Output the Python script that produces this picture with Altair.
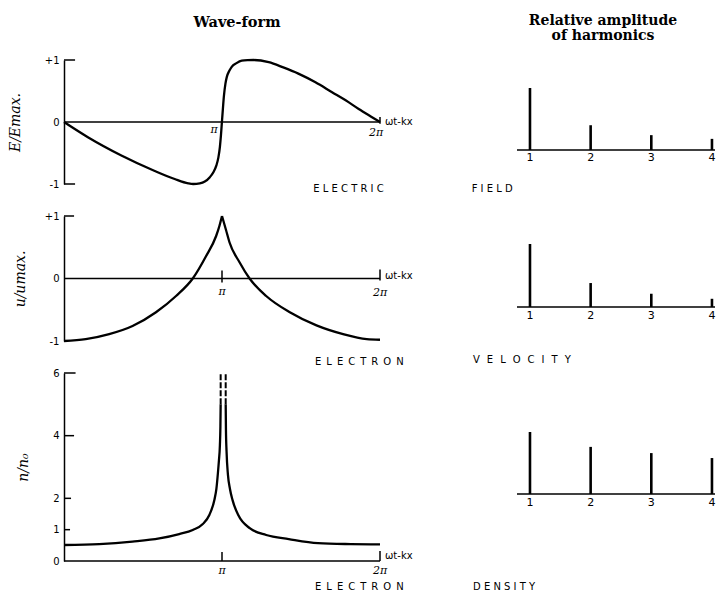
import math
import altair as alt
import pandas as pd

PI = math.pi
TWO_PI = 2 * math.pi

# ---------------- data ----------------
# Electric field wave-form (phase in rad, E/Emax)
field_phase = [0.0, 0.475, 1.141, 1.805, 2.20, 2.47, 2.57, 2.70, 2.80, 2.90, 2.97, 3.03, 3.07, 3.10,
               3.12, 3.14, 3.16, 3.18, 3.21, 3.235, 3.29, 3.335, 3.43, 3.535, 3.65, 3.77, 4.07, 4.36,
               4.66, 5.00, 5.33, 5.60, 5.86, 6.10, 6.283]
field_value = [0.0, -0.245, -0.54, -0.79, -0.92, -0.99, -1.0, -0.99, -0.96, -0.89, -0.81, -0.70, -0.57,
               -0.40, -0.22, 0.0, 0.22, 0.42, 0.62, 0.72, 0.83, 0.89, 0.95, 0.99, 0.998, 1.0, 0.965,
               0.88, 0.78, 0.64, 0.48, 0.35, 0.21, 0.09, 0.0]

# Electron velocity (u/umax), two branches meeting in a cusp at pi
vel_left_phase = [0.0, 0.432, 0.898, 1.363, 1.829, 2.228, 2.56, 2.826, 3.025, 3.09, 3.1416]
vel_left_value = [-1.0, -0.97, -0.89, -0.76, -0.54, -0.28, 0.0, 0.36, 0.68, 0.84, 1.0]
vel_right_phase = [3.1416, 3.22, 3.29, 3.49, 3.69, 4.02, 4.49, 5.02, 5.55, 6.02, 6.283]
vel_right_value = [1.0, 0.78, 0.58, 0.26, 0.0, -0.28, -0.54, -0.75, -0.89, -0.97, -0.98]

# Electron density (n/n0), two branches going off-scale near pi
den_left_phase = [0.0, 0.70, 1.36, 1.895, 2.29, 2.56, 2.76, 2.89, 2.99, 3.03, 3.06, 3.08, 3.10, 3.11, 3.115]
den_left_value = [0.51, 0.54, 0.62, 0.72, 0.86, 0.99, 1.18, 1.47, 1.95, 2.3, 2.8, 3.2, 3.7, 4.3, 5.0]
den_right_phase = [3.215, 3.22, 3.232, 3.26, 3.30, 3.35, 3.47, 3.70, 4.02, 4.47, 5.05, 5.70, 6.283]
den_right_value = [5.0, 4.2, 3.5, 2.75, 2.3, 1.95, 1.45, 1.04, 0.83, 0.70, 0.57, 0.54, 0.53]
den_break_phase = [3.115, 3.215]
den_break_from = [5.0, 5.0]
den_break_to = [6.0, 6.0]

# Relative amplitude of harmonics
harmonic_n = [1, 2, 3, 4]
harm_field = [1.0, 0.40, 0.24, 0.18]
harm_velocity = [1.0, 0.38, 0.21, 0.13]
harm_density = [1.0, 0.76, 0.66, 0.58]
harmonic_labels = ["1", "2", "3", "4"]

col_titles = ["Wave-form", ["Relative amplitude", "of harmonics"]]
y_titles = ["E/Emax.", "u/umax.", "n/n\u2080"]
row_words = [("ELECTRIC", "FIELD"),
             ("ELECTRON", "VELOCITY"),
             ("ELECTRON", "DENSITY")]
# letter gaps used to spread the lettering as in the original
row_gaps = [(" ", "   "),
            ("\u2002", "\u2002\u2009"),
            ("\u2002", "  ")]
phase_labels = ["\u03c0", "2\u03c0"]
phase_axis_word = "\u03c9t-kx"

# ---------------- helpers ----------------
W_WAVE = 316
W_HARM = 198
XS_WAVE = alt.Scale(domain=[0, TWO_PI], nice=False, zero=False)
HX_MIN, HX_MAX = 0.786, 4.050
XS_HARM = alt.Scale(domain=[HX_MIN, HX_MAX], nice=False, zero=False)
SANS = "DejaVu Sans"
SERIF = "DejaVu Serif"


def spaced(word, gap):
    return gap.join(list(word))


def y_axis(values, expr, title, tpad):
    return alt.Axis(values=values, labelExpr=expr, title=title, titlePadding=tpad,
                    domain=True, domainColor="black", domainWidth=1.5,
                    ticks=False, tickSize=0, labelPadding=5, labelFont=SANS,
                    labelFontSize=10, labelColor="black", labelAngle=0,
                    labelFlush=False, labelOverlap=False, grid=False,
                    titleFont=SERIF, titleFontSize=14, titleFontStyle="italic",
                    titleFontWeight="normal", titleColor="black")


def text_df(x, y, label):
    return pd.DataFrame({"phi": [x], "v": [y], "label": [label]})


def wave_panel(curve_df, ydom, height, axis, rules_df, texts, dashed_df=None, title=None):
    ys = alt.Scale(domain=ydom, nice=False, zero=False)

    def X():
        return alt.X("phi:Q", scale=XS_WAVE, axis=None)

    def Y():
        return alt.Y("v:Q", scale=ys, axis=axis)

    layers = [
        alt.Chart(curve_df).mark_line(color="black", strokeWidth=2.3, interpolate="monotone")
        .encode(x=X(), y=Y(), detail="seg:N"),
        alt.Chart(rules_df).mark_rule(color="black", strokeWidth=1.5)
        .encode(x=X(), x2="phi2:Q", y=Y(), y2="v2:Q"),
    ]
    if dashed_df is not None:
        layers.append(alt.Chart(dashed_df).mark_rule(color="black", strokeWidth=2.0, strokeDash=[6, 2])
                      .encode(x=X(), y=Y(), y2="v2:Q"))
    for df, kw in texts:
        layers.append(alt.Chart(df).mark_text(color="black", **kw)
                      .encode(x=X(), y=Y(), text="label:N"))
    ch = alt.layer(*layers).properties(width=W_WAVE, height=height)
    if title is not None:
        ch = ch.properties(title=title)
    return ch


def harm_panel(amps, ydom, height, word_df, label_dy, title=None):
    ys = alt.Scale(domain=ydom, nice=False, zero=False)

    def X():
        return alt.X("phi:Q", scale=XS_HARM, axis=None)

    def Y():
        return alt.Y("v:Q", scale=ys, axis=None)

    base = pd.DataFrame({"phi": [HX_MIN], "phi2": [HX_MAX], "v": [0.0]})
    bars = pd.DataFrame({"phi": harmonic_n, "v": [0.0] * 4, "v2": amps})
    labs = pd.DataFrame({"phi": harmonic_n, "v": [0.0] * 4, "label": harmonic_labels})
    layers = [
        alt.Chart(base).mark_rule(color="black", strokeWidth=1.5).encode(x=X(), x2="phi2:Q", y=Y()),
        alt.Chart(bars).mark_rule(color="black", strokeWidth=2.6).encode(x=X(), y=Y(), y2="v2:Q"),
        alt.Chart(labs).mark_text(color="black", font=SANS, fontSize=11, baseline="top", dy=label_dy)
        .encode(x=X(), y=Y(), text="label:N"),
        alt.Chart(word_df).mark_text(color="black", font=SANS, fontSize=10, align="left", baseline="middle")
        .encode(x=X(), y=Y(), text="label:N"),
    ]
    ch = alt.layer(*layers).properties(width=W_HARM, height=height)
    if title is not None:
        ch = ch.properties(title=title)
    return ch


def seg_df(rows):
    return pd.DataFrame(rows, columns=["phi", "v", "phi2", "v2"])


pi_style = dict(font=SERIF, fontSize=11, fontStyle="italic", align="center", baseline="top")
wt_style = dict(font=SANS, fontSize=10, align="left", baseline="middle", dx=5)
word_style = dict(font=SANS, fontSize=10, align="left", baseline="middle")

# ---------------- row 1 : electric field ----------------
field_df = pd.DataFrame({"phi": field_phase, "v": field_value, "seg": "a"})
rules1 = seg_df([[0, 0, TWO_PI, 0], [0, 1, 0.22, 1], [0, -1, 0.22, -1], [TWO_PI, -0.03, TWO_PI, 0.08]])
texts1 = [
    (text_df(PI, 0, phase_labels[0]), dict(pi_style, dx=-8, dy=2)),
    (text_df(TWO_PI, 0, phase_labels[1]), dict(pi_style, dx=-4, dy=5)),
    (text_df(TWO_PI, 0, phase_axis_word), wt_style),
    (text_df(4.957, -1.081, spaced(row_words[0][0], row_gaps[0][0])), word_style),
]
wave1 = wave_panel(field_df, [-1, 1], 124,
                   y_axis([-1, 0, 1], "datum.value > 0 ? '+1' : (datum.value < 0 ? '-1' : '0')", y_titles[0], 22),
                   rules1, texts1,
                   title=alt.TitleParams(col_titles[0], font=SERIF, fontSize=14.5, fontWeight="bold",
                                         anchor="middle", dx=15, offset=11, baseline="bottom", color="black"))
harm1 = harm_panel(harm_field, [-0.548, 1.452], 124,
                   text_df(0.039, -0.629, spaced(row_words[0][1], row_gaps[0][1])), 2,
                   title=alt.TitleParams(col_titles[1], font=SERIF, fontSize=14, fontWeight="bold",
                                         anchor="middle", dx=-13, offset=3, baseline="bottom",
                                         lineHeight=15, color="black"))

# ---------------- row 2 : electron velocity ----------------
vel_df = pd.concat([
    pd.DataFrame({"phi": vel_left_phase, "v": vel_left_value, "seg": "l"}),
    pd.DataFrame({"phi": vel_right_phase, "v": vel_right_value, "seg": "r"}),
])
rules2 = seg_df([[0, 0, TWO_PI, 0], [0, 1, 0.2, 1], [PI, -0.065, PI, 0.13], [TWO_PI, -0.03, TWO_PI, 0.145]])
texts2 = [
    (text_df(PI, 0, phase_labels[0]), dict(pi_style, dy=7)),
    (text_df(TWO_PI, 0, phase_labels[1]), dict(pi_style, dy=8)),
    (text_df(TWO_PI, 0, phase_axis_word), dict(wt_style, dy=-3)),
    (text_df(4.991, -1.331, spaced(row_words[1][0], row_gaps[1][0])), word_style),
]
wave2 = wave_panel(vel_df, [-1, 1], 125,
                   y_axis([-1, 0, 1], "datum.value > 0 ? '+1' : (datum.value < 0 ? '-1' : '0')", y_titles[1], 17),
                   rules2, texts2)
harm2 = harm_panel(harm_velocity, [-0.540, 1.444], 125,
                   text_df(0.061, -0.841, spaced(row_words[1][1], row_gaps[1][1])), 3)

# ---------------- row 3 : electron density ----------------
den_df = pd.concat([
    pd.DataFrame({"phi": den_left_phase, "v": den_left_value, "seg": "l"}),
    pd.DataFrame({"phi": den_right_phase, "v": den_right_value, "seg": "r"}),
])
rules3 = seg_df([[0, 0, TWO_PI, 0], [0, 6, 0.23, 6], [0, 4, 0.2, 4], [0, 2, 0.14, 2], [0, 1, 0.12, 1],
                 [PI, 0, PI, 0.29], [TWO_PI, 0, TWO_PI, 0.32]])
dashed3 = pd.DataFrame({"phi": den_break_phase, "v": den_break_from, "v2": den_break_to})
texts3 = [
    (text_df(PI, 0, phase_labels[0]), dict(pi_style, dy=4)),
    (text_df(TWO_PI, 0, phase_labels[1]), dict(pi_style, dy=4)),
    (text_df(TWO_PI, 0, phase_axis_word), dict(wt_style, dy=-5)),
    (text_df(4.991, -0.83, spaced(row_words[2][0], row_gaps[2][0])), word_style),
]
wave3 = wave_panel(den_df, [0, 6], 188,
                   y_axis([0, 1, 2, 4, 6], "datum.label", y_titles[2], 22),
                   rules3, texts3, dashed_df=dashed3)
harm3 = harm_panel(harm_density, [-1.081, 1.952], 188,
                   text_df(0.061, -1.50, spaced(row_words[2][1], row_gaps[2][1])), 3)

chart = (alt.concat(wave1, harm1, wave2, harm2, wave3, harm3, columns=2,
                    spacing={"row": 32, "column": 137}, bounds="flush")
         .properties(background="white", padding={"left": 0, "top": 6, "right": 0, "bottom": 0})
         .configure_view(stroke=None))

chart.save("out.html", embed_options={"renderer": "svg", "actions": False})
